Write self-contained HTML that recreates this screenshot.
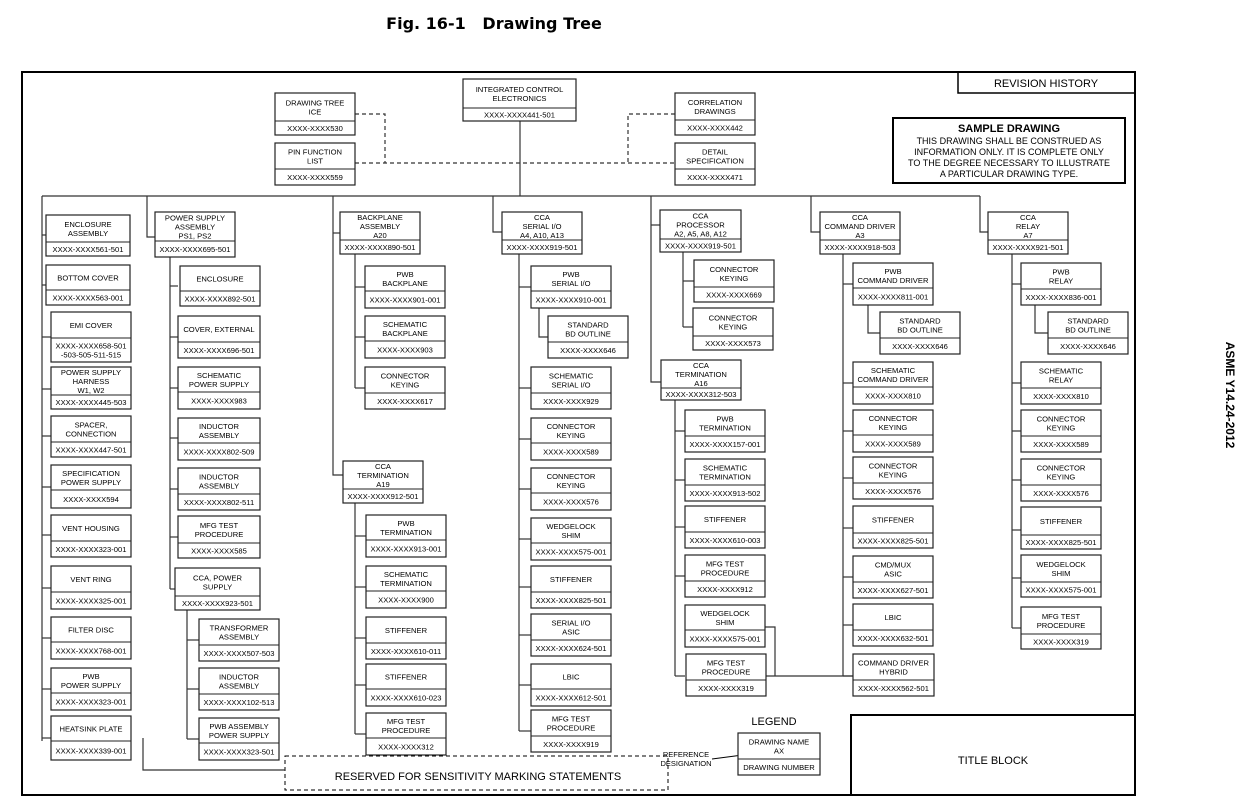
<!DOCTYPE html>
<html><head><meta charset="utf-8"><style>
body{margin:0;background:#fff;width:1247px;height:805px;overflow:hidden}
svg{display:block;font-family:"Liberation Sans",Arial,sans-serif}
</style></head><body>
<svg id="s" width="1247" height="805" viewBox="0 0 1247 805" xmlns="http://www.w3.org/2000/svg">
<text x="494" y="29" font-size="16" font-weight="bold" text-anchor="middle" font-family="DejaVu Sans, sans-serif" xml:space="preserve">Fig. 16-1   Drawing Tree</text>
<text transform="translate(1226,395) rotate(90)" font-size="12" font-weight="bold" text-anchor="middle">ASME Y14.24-2012</text>
<rect x="22" y="72" width="1113" height="723" fill="none" stroke="#000" stroke-width="2"/>
<rect x="958" y="72" width="177" height="21" fill="none" stroke="#000" stroke-width="1.5"/>
<text x="1046" y="87" font-size="11" text-anchor="middle">REVISION HISTORY</text>
<rect x="893" y="118" width="232" height="65" fill="none" stroke="#000" stroke-width="2"/>
<text font-size="9" text-anchor="middle"><tspan x="1009" y="132" font-size="11" font-weight="bold">SAMPLE DRAWING</tspan><tspan x="1009" y="144">THIS DRAWING SHALL BE CONSTRUED AS</tspan><tspan x="1009" y="155">INFORMATION ONLY. IT IS COMPLETE ONLY</tspan><tspan x="1009" y="166">TO THE DEGREE NECESSARY TO ILLUSTRATE</tspan><tspan x="1009" y="177">A PARTICULAR DRAWING TYPE.</tspan></text>
<rect x="851" y="715" width="284" height="80" fill="none" stroke="#000" stroke-width="2"/>
<text x="993" y="764" font-size="11" text-anchor="middle">TITLE BLOCK</text>
<rect x="285" y="756" width="383" height="34" fill="none" stroke="#000" stroke-dasharray="4,3"/>
<text x="478" y="780" font-size="11" text-anchor="middle">RESERVED FOR SENSITIVITY MARKING STATEMENTS</text>
<text x="774" y="725" font-size="11" text-anchor="middle">LEGEND</text>
<text font-size="7.5" text-anchor="middle"><tspan x="686" y="757">REFERENCE</tspan><tspan x="686" y="766">DESIGNATION</tspan></text>
<line x1="712" y1="759" x2="758" y2="753" stroke="#000"/>
<polygon points="766,752 756,749 757,756" fill="#000"/>
<g id="L" stroke="#333" stroke-width="1.2" fill="none"></g>
<g id="B"></g>
</svg>
<script>
var L=document.getElementById('L'),B=document.getElementById('B'),NS="http://www.w3.org/2000/svg";
function el(p,n,a,t){var e=document.createElementNS(NS,n);for(var k in a)e.setAttribute(k,a[k]);if(t)e.textContent=t;p.appendChild(e);return e;}
function pl(pts,d){var a={points:pts};if(d)a['stroke-dasharray']='4,3';el(L,'polyline',a);}
function box(x,y,w,h,dv,top,bot){
 el(B,'rect',{x:x,y:y,width:w,height:h,fill:'#fff',stroke:'#222','stroke-width':1.2});
 el(B,'line',{x1:x,y1:dv,x2:x+w,y2:dv,stroke:'#222','stroke-width':1});
 var lines=top.split('|'),cx=x+w/2,lh=9,cy=(y+dv)/2-(lines.length-1)*lh/2+3;
 lines.forEach(function(s,i){el(B,'text',{x:cx,y:cy+i*lh,'font-size':7.6,'text-anchor':'middle'},s)});
 var bl=bot.split('|'),by=(dv+y+h)/2-(bl.length-1)*4.5+3;
 bl.forEach(function(s,i){el(B,'text',{x:cx,y:by+i*9,'font-size':7.6,'text-anchor':'middle'},s)});
}
pl("355,114 385,114 385,163",1);pl("355,163 675,163",1);pl("675,114 628,114 628,163",1);
pl("520,121 520,196");pl("42,196 980,196");pl("42,196 42,741");
[235,285,337,389,436,487,535,588,638,689,738].forEach(function(y){pl("42,"+y+" 51,"+y)});
pl("147,196 147,237 155,237");pl("170,257 170,589");
[286,337,388,438,489,537,589].forEach(function(y){pl("170,"+y+" 178,"+y)});
pl("187,610 187,739");[640,689,739].forEach(function(y){pl("187,"+y+" 199,"+y)});
pl("143,738 143,770 285,770");
pl("333,196 333,475 343,475");pl("333,233 340,233");
pl("355,254 355,388");[287,337,388].forEach(function(y){pl("355,"+y+" 365,"+y)});
pl("355,503 355,734");[536,587,638,685,734].forEach(function(y){pl("355,"+y+" 366,"+y)});
pl("493,196 493,232 502,232");pl("519,252 519,731");
[287,388,439,489,539,587,635,685,731].forEach(function(y){pl("519,"+y+" 531,"+y)});
pl("539,308 539,337 548,337");
pl("651,196 651,382 661,382");pl("651,225 661,225");
pl("683,252 683,327");[281,327].forEach(function(y){pl("683,"+y+" 694,"+y)});
pl("675,400 675,676");[431,480,527,576,676].forEach(function(y){pl("675,"+y+" 685,"+y)});
pl("765,627 775,627 775,676");pl("765,676 853,676");
pl("811,196 811,232 820,232");pl("843,254 843,676");
[284,383,431,478,528,577,625,676].forEach(function(y){pl("843,"+y+" 853,"+y)});
pl("868,305 868,333 880,333");
pl("980,196 980,232 988,232");pl("1012,254 1012,628");
[284,383,431,480,530,578,628].forEach(function(y){pl("1012,"+y+" 1021,"+y)});
pl("1035,305 1035,333 1048,333");
var D=[
[463,79,113,42,108,"INTEGRATED CONTROL|ELECTRONICS","XXXX-XXXX441-501"],
[275,93,80,42,121,"DRAWING TREE|ICE","XXXX-XXXX530"],
[275,143,80,42,169,"PIN FUNCTION|LIST","XXXX-XXXX559"],
[675,93,80,42,120,"CORRELATION|DRAWINGS","XXXX-XXXX442"],
[675,143,80,42,169,"DETAIL|SPECIFICATION","XXXX-XXXX471"],
[46,215,84,41,242,"ENCLOSURE|ASSEMBLY","XXXX-XXXX561-501"],
[46,265,84,40,290,"BOTTOM COVER","XXXX-XXXX563-001"],
[51,312,80,50,338,"EMI COVER","XXXX-XXXX658-501|-503-505-511-515"],
[51,367,80,42,395,"POWER SUPPLY|HARNESS|W1, W2","XXXX-XXXX445-503"],
[51,416,80,41,442,"SPACER,|CONNECTION","XXXX-XXXX447-501"],
[51,465,80,43,490,"SPECIFICATION|POWER SUPPLY","XXXX-XXXX594"],
[51,515,80,42,541,"VENT HOUSING","XXXX-XXXX323-001"],
[51,566,80,43,592,"VENT RING","XXXX-XXXX325-001"],
[51,617,80,42,642,"FILTER DISC","XXXX-XXXX768-001"],
[51,668,80,42,693,"PWB|POWER SUPPLY","XXXX-XXXX323-001"],
[51,716,80,44,741,"HEATSINK PLATE","XXXX-XXXX339-001"],
[155,212,80,45,241,"POWER SUPPLY|ASSEMBLY|PS1, PS2","XXXX-XXXX695-501"],
[180,266,80,40,291,"ENCLOSURE","XXXX-XXXX892-501"],
[178,316,82,42,342,"COVER, EXTERNAL","XXXX-XXXX696-501"],
[178,367,82,42,392,"SCHEMATIC|POWER SUPPLY","XXXX-XXXX983"],
[178,418,82,42,443,"INDUCTOR|ASSEMBLY","XXXX-XXXX802-509"],
[178,468,82,42,494,"INDUCTOR|ASSEMBLY","XXXX-XXXX802-511"],
[178,516,82,42,543,"MFG TEST|PROCEDURE","XXXX-XXXX585"],
[175,568,85,42,596,"CCA, POWER|SUPPLY","XXXX-XXXX923-501"],
[199,619,80,42,645,"TRANSFORMER|ASSEMBLY","XXXX-XXXX507-503"],
[199,668,80,42,694,"INDUCTOR|ASSEMBLY","XXXX-XXXX102-513"],
[199,718,80,42,743,"PWB ASSEMBLY|POWER SUPPLY","XXXX-XXXX323-501"],
[340,212,80,42,240,"BACKPLANE|ASSEMBLY|A20","XXXX-XXXX890-501"],
[365,266,80,42,291,"PWB|BACKPLANE","XXXX-XXXX901-001"],
[365,316,80,42,341,"SCHEMATIC|BACKPLANE","XXXX-XXXX903"],
[365,367,80,42,393,"CONNECTOR|KEYING","XXXX-XXXX617"],
[343,461,80,42,489,"CCA|TERMINATION|A19","XXXX-XXXX912-501"],
[366,515,80,42,540,"PWB|TERMINATION","XXXX-XXXX913-001"],
[366,566,80,42,591,"SCHEMATIC|TERMINATION","XXXX-XXXX900"],
[366,617,80,42,643,"STIFFENER","XXXX-XXXX610-011"],
[366,664,80,42,689,"STIFFENER","XXXX-XXXX610-023"],
[366,713,80,42,738,"MFG TEST|PROCEDURE","XXXX-XXXX312"],
[502,212,80,42,240,"CCA|SERIAL I/O|A4, A10, A13","XXXX-XXXX919-501"],
[531,266,80,42,291,"PWB|SERIAL I/O","XXXX-XXXX910-001"],
[548,316,80,42,342,"STANDARD|BD OUTLINE","XXXX-XXXX646"],
[531,367,80,42,393,"SCHEMATIC|SERIAL I/O","XXXX-XXXX929"],
[531,418,80,42,443,"CONNECTOR|KEYING","XXXX-XXXX589"],
[531,468,80,42,493,"CONNECTOR|KEYING","XXXX-XXXX576"],
[531,518,80,42,543,"WEDGELOCK|SHIM","XXXX-XXXX575-001"],
[531,566,80,42,592,"STIFFENER","XXXX-XXXX825-501"],
[531,614,80,42,640,"SERIAL I/O|ASIC","XXXX-XXXX624-501"],
[531,664,80,42,689,"LBIC","XXXX-XXXX612-501"],
[531,710,80,42,736,"MFG TEST|PROCEDURE","XXXX-XXXX919"],
[660,210,81,42,239,"CCA|PROCESSOR|A2, A5, A8, A12","XXXX-XXXX919-501"],
[694,260,80,42,287,"CONNECTOR|KEYING","XXXX-XXXX669"],
[693,308,80,42,336,"CONNECTOR|KEYING","XXXX-XXXX573"],
[661,360,80,40,388,"CCA|TERMINATION|A16","XXXX-XXXX312-503"],
[685,410,80,42,436,"PWB|TERMINATION","XXXX-XXXX157-001"],
[685,459,80,42,485,"SCHEMATIC|TERMINATION","XXXX-XXXX913-502"],
[685,506,80,42,532,"STIFFENER","XXXX-XXXX610-003"],
[685,555,80,42,581,"MFG TEST|PROCEDURE","XXXX-XXXX912"],
[685,605,80,42,630,"WEDGELOCK|SHIM","XXXX-XXXX575-001"],
[686,654,80,42,680,"MFG TEST|PROCEDURE","XXXX-XXXX319"],
[820,212,80,42,240,"CCA|COMMAND DRIVER|A3","XXXX-XXXX918-503"],
[853,263,80,42,288,"PWB|COMMAND DRIVER","XXXX-XXXX811-001"],
[880,312,80,42,338,"STANDARD|BD OUTLINE","XXXX-XXXX646"],
[853,362,80,42,387,"SCHEMATIC|COMMAND DRIVER","XXXX-XXXX810"],
[853,410,80,42,435,"CONNECTOR|KEYING","XXXX-XXXX589"],
[853,457,80,42,483,"CONNECTOR|KEYING","XXXX-XXXX576"],
[853,506,80,42,533,"STIFFENER","XXXX-XXXX825-501"],
[853,556,80,42,582,"CMD/MUX|ASIC","XXXX-XXXX627-501"],
[853,604,80,42,630,"LBIC","XXXX-XXXX632-501"],
[853,654,81,42,680,"COMMAND DRIVER|HYBRID","XXXX-XXXX562-501"],
[988,212,80,42,240,"CCA|RELAY|A7","XXXX-XXXX921-501"],
[1021,263,80,42,289,"PWB|RELAY","XXXX-XXXX836-001"],
[1048,312,80,42,338,"STANDARD|BD OUTLINE","XXXX-XXXX646"],
[1021,362,80,42,388,"SCHEMATIC|RELAY","XXXX-XXXX810"],
[1021,410,80,42,436,"CONNECTOR|KEYING","XXXX-XXXX589"],
[1021,459,80,42,485,"CONNECTOR|KEYING","XXXX-XXXX576"],
[1021,507,80,42,535,"STIFFENER","XXXX-XXXX825-501"],
[1021,555,80,42,582,"WEDGELOCK|SHIM","XXXX-XXXX575-001"],
[1021,607,80,42,634,"MFG TEST|PROCEDURE","XXXX-XXXX319"],
[738,733,82,42,759,"DRAWING NAME|AX","DRAWING NUMBER"]
];
D.forEach(function(d){box.apply(null,d)});
</script>
</body></html>
